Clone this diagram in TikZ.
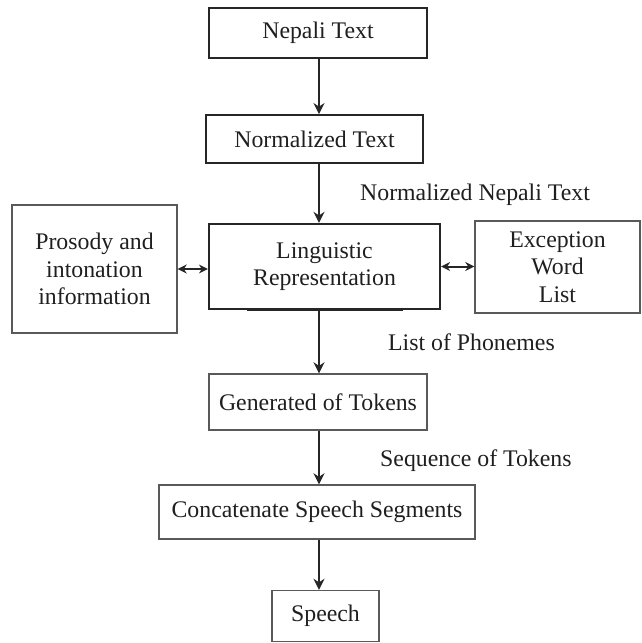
\documentclass[tikz,border=0pt]{standalone}
\usepackage{fontspec}
\setmainfont{Liberation Serif}
\usetikzlibrary{arrows.meta}
\begin{document}
\begin{tikzpicture}[x=1pt,y=-1pt,
  every node/.style={text=black!88, font=\fontsize{23.8}{27.5}\selectfont},
  boxA/.style={draw=black!85, line width=2.2pt, minimum width=#1, inner sep=0pt, align=center},
  boxB/.style={draw=black!65, line width=1.4pt, minimum width=#1, inner sep=0pt, align=center},
  arr/.style={draw=black!85, line width=2pt, -{Stealth[length=11pt,width=11pt]}},
  darr/.style={draw=black!85, line width=2pt, {Stealth[length=9pt,width=9pt]}-{Stealth[length=9pt,width=9pt]}},
  lbl/.style={anchor=base west, inner sep=0pt}]
\useasboundingbox (0,0) rectangle (641,643);
\coordinate (axis) at (319,0);
\node[boxA=218pt, minimum height=50pt] (nepali) at (318,33) {Nepali Text};
\node[boxA=217pt, minimum height=48pt, line width=1.9pt] (norm) at (314.5,139) {Normalized Text};
\node[boxA=231pt, minimum height=85pt] (ling) at (324.5,266.5) {Linguistic\\Representation};
\node[boxB=165pt, minimum height=128pt] (pros) at (94.5,269) {Prosody and\\intonation\\information};
\node[boxB=165pt, minimum height=92pt] (exc) at (557.5,267) {Exception\\Word\\List};
\node[boxB=218pt, minimum height=56pt] (gen) at (318,402) {Generated of Tokens};
\node[boxB=316pt, minimum height=54pt] (conc) at (317,512) {Concatenate Speech Segments};
\node[boxB=107pt, minimum height=51pt] (speech) at (325.5,616) {Speech};
\coordinate (ulA) at (247,309);
\coordinate (ulB) at (403,309);
\draw[line width=3pt, black!85] (ulA) -- (ulB);
\node[lbl] (l1) at (360,200) {Normalized Nepali Text};
\node[lbl] (l2) at (388,350) {List of Phonemes};
\node[lbl] (l3) at (380,466) {Sequence of Tokens};
\draw[arr] (nepali.south -| axis) -- (norm.north -| axis);
\draw[arr] (norm.south -| axis) -- (ling.north -| axis);
\draw[arr] (ling.south -| axis) -- (gen.north -| axis);
\draw[arr] (gen.south -| axis) -- (conc.north -| axis);
\draw[arr] (conc.south -| axis) -- (speech.north -| axis);
\draw[darr] (pros.east) -- (pros.east -| ling.west);
\draw[darr] (ling.east) -- (ling.east -| exc.west);
\end{tikzpicture}
\end{document}
